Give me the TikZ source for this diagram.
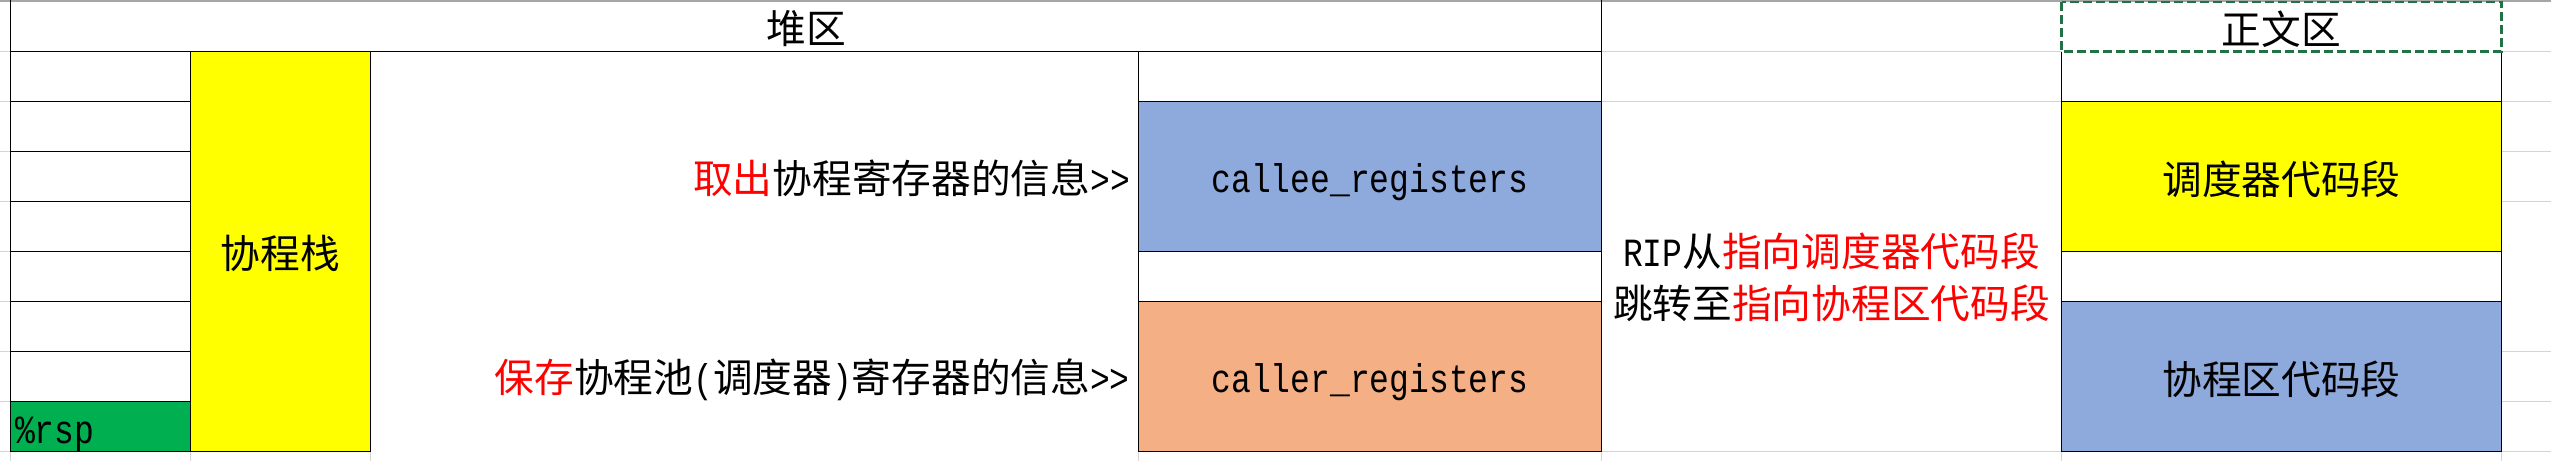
\documentclass[tikz,border=0pt]{standalone}
\usepackage{fontspec}
\newfontfamily\cjk{Noto Sans CJK SC}
\newfontfamily\lat[FakeStretch=0.825]{Liberation Mono}
\definecolor{gridgray}{HTML}{D4D4D4}
\definecolor{topgray}{HTML}{A6A6A6}
\definecolor{cyellow}{HTML}{FFFF00}
\definecolor{cblue}{HTML}{8EA9DB}
\definecolor{corange}{HTML}{F4B084}
\definecolor{cgreen}{HTML}{00B050}
\definecolor{cred}{HTML}{FF0000}
\definecolor{antgreen}{HTML}{217346}
\newcommand\latsm[1]{{\lat\fontsize{40}{48}\selectfont #1}}
\begin{document}
\begin{tikzpicture}[x=1pt,y=-1pt,
  grid/.style={gridgray, line width=1pt},
  border/.style={black, line width=1.6pt},
  cn/.style={font=\cjk\fontsize{39.7}{48}\selectfont, inner sep=0pt, anchor=base},
  ln/.style={font=\lat\fontsize{40}{48}\selectfont, inner sep=0pt, anchor=base}]
\useasboundingbox (0,0) rectangle (2551,461);
\fill[white] (0,0) rectangle (2551,461);
% light grid lines
\foreach \yy in {51.5,101.5,151.5,201.5,251.5,301.5,351.5,401.5,451.5}
  \draw[grid] (0,\yy) -- (10.5,\yy);
\foreach \yy in {51.5,101.5}
  \draw[grid] (1601.5,\yy) -- (2061.5,\yy);
\foreach \yy in {51.5,101.5,151.5,201.5,351.5,401.5,451.5}
  \draw[grid] (2501.5,\yy) -- (2551,\yy);
\foreach \xx in {10.5,190.3,370.3,1138.5,1601.5,2061.5,2501.5}
  \draw[grid] (\xx,451.5) -- (\xx,461);
\draw[grid] (1601.5,451.5) -- (2061.5,451.5);
\draw[topgray, line width=1.2pt] (0,1) -- (2551,1);
% fills
\fill[cyellow] (190.3,51.5) rectangle (370.3,451.5);
\fill[cgreen] (10.5,401.5) rectangle (190.3,451.5);
\fill[cblue] (1138.5,101.5) rectangle (1601.5,251.5);
\fill[corange] (1138.5,301.5) rectangle (1601.5,451.5);
\fill[cyellow] (2061.5,101.5) rectangle (2501.5,251.5);
\fill[cblue] (2061.5,301.5) rectangle (2501.5,451.5);
% black borders
\draw[border] (10.5,0) -- (10.5,451.5);
\draw[border] (1601.5,0) -- (1601.5,451.5);
\draw[border] (10.5,51.5) -- (1601.5,51.5);
\foreach \yy in {101.5,151.5,201.5,251.5,301.5,351.5,401.5}
  \draw[border] (10.5,\yy) -- (190.3,\yy);
\draw[border] (10.5,451.5) -- (370.3,451.5);
\draw[border] (190.3,51.5) -- (190.3,451.5);
\draw[border] (370.3,51.5) -- (370.3,451.5);
\draw[border] (1138.5,51.5) -- (1138.5,451.5);
\foreach \yy in {101.5,251.5,301.5,451.5}
  \draw[border] (1138.5,\yy) -- (1601.5,\yy);
\draw[border] (2061.5,51.5) -- (2061.5,451.5);
\draw[border] (2501.5,51.5) -- (2501.5,451.5);
\foreach \yy in {101.5,251.5,301.5,451.5}
  \draw[border] (2061.5,\yy) -- (2501.5,\yy);
% copy-selection dashed box
\draw[antgreen, line width=2.2pt, dash pattern=on 9pt off 4pt] (2061.5,1.8) rectangle (2501.5,51.5);
% texts
\node[cn] (heap) at (806,43) {堆区};
\node[cn] (text) at (2281.5,44) {正文区};
\node[cn] (stack) at (280.3,268) {协程栈};
\node[ln, anchor=base west] (rsp) at (15,443) {\%rsp};
\node[cn, anchor=base east] (take) at (1130,193) {\textcolor{cred}{取出}协程寄存器的信息\latsm{>\kern0pt>}};
\node[cn, anchor=base east] (save) at (1130,392) {\textcolor{cred}{保存}协程池\latsm{(}调度器\latsm{)}寄存器的信息\latsm{>\kern0pt>}};
\node[ln] (callee) at (1370,192.5) {callee\_registers};
\node[ln] (caller) at (1370,392.5) {caller\_registers};
\node[cn] (rip1) at (1831.5,266) {\latsm{RIP}从\textcolor{cred}{指向调度器代码段}};
\node[cn] (rip2) at (1831.5,318) {跳转至\textcolor{cred}{指向协程区代码段}};
\node[cn] (sched) at (2281.5,194) {调度器代码段};
\node[cn] (corocode) at (2281.5,394) {协程区代码段};
\end{tikzpicture}
\end{document}
